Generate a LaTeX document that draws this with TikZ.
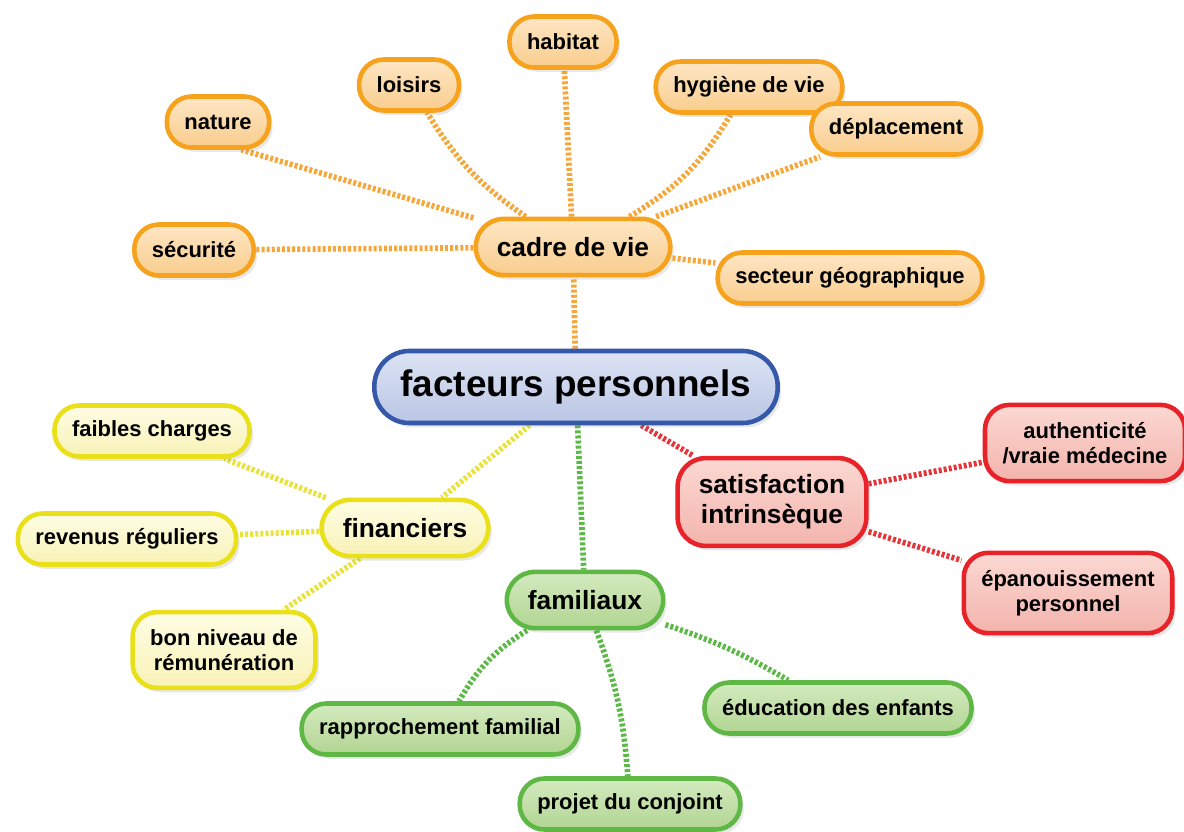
\documentclass[tikz,border=0pt]{standalone}
\usepackage{fontspec}
\setmainfont{Liberation Sans}
\usetikzlibrary{shadows,backgrounds}

\definecolor{vieline}{HTML}{F6A21C}
\definecolor{vietop}{HTML}{FEE6C4}
\definecolor{viebot}{HTML}{F9CD8E}
\definecolor{vielink}{HTML}{F5A73C}
\definecolor{mainline}{HTML}{3558A8}
\definecolor{maintop}{HTML}{DCE3F4}
\definecolor{mainbot}{HTML}{BAC6E4}
\definecolor{satline}{HTML}{E82229}
\definecolor{sattop}{HTML}{FBD8D2}
\definecolor{satbot}{HTML}{F3B4AD}
\definecolor{satlink}{HTML}{E5343A}
\definecolor{finline}{HTML}{EAE01A}
\definecolor{fintop}{HTML}{FEFDE4}
\definecolor{finbot}{HTML}{F8F2B6}
\definecolor{finlink}{HTML}{E8E23A}
\definecolor{famline}{HTML}{5FB846}
\definecolor{famtop}{HTML}{D4EABF}
\definecolor{fambot}{HTML}{B1D592}
\definecolor{famlink}{HTML}{5CB947}

\tikzset{
  box/.style={draw, line width=2.6pt, rounded corners=14pt, align=center,
    font=\bfseries\fontsize{12.5}{14}\selectfont, inner xsep=10pt, inner ysep=5pt,
    minimum height=29pt,
    drop shadow={opacity=0.18, shadow xshift=2pt, shadow yshift=-2.5pt}},
  theme/.style={box, font=\bfseries\fontsize{15}{17}\selectfont, inner xsep=12pt,
    inner ysep=9.5pt, minimum height=32pt, rounded corners=16pt},
  twolines/.style={inner ysep=10pt},
  vie/.style={draw=vieline, top color=vietop, bottom color=viebot},
  sat/.style={draw=satline, top color=sattop, bottom color=satbot},
  fin/.style={draw=finline, top color=fintop, bottom color=finbot},
  fam/.style={draw=famline, top color=famtop, bottom color=fambot},
  link/.style={line width=3.2pt, dash pattern=on 1.7pt off 1.2pt}
}

\begin{document}
\begin{tikzpicture}[x=0.02cm, y=-0.02cm]
  \useasboundingbox (0,0) rectangle (1184,832);

  \node[box, draw=mainline, top color=maintop, bottom color=mainbot, rounded corners=20pt,
    font=\bfseries\fontsize{21}{25}\selectfont, inner xsep=15pt, minimum height=41pt] (facteurs) at (576,387) {facteurs personnels};

  \node[theme, vie] (cadre) at (573,247) {cadre de vie};
  \node[box, vie] (nature) at (218,122) {nature};
  \node[box, vie] (loisirs) at (409,85) {loisirs};
  \node[box, vie] (habitat) at (563,42) {habitat};
  \node[box, vie] (hygiene) at (749,87) {hygiène de vie};
  \node[box, vie] (deplacement) at (896,129) {déplacement};
  \node[box, vie] (securite) at (194,250) {sécurité};
  \node[box, vie] (secteur) at (850,278) {secteur géographique};

  \node[theme, sat] (satisfaction) at (772,502) {satisfaction\\intrinsèque};
  \node[box, sat, twolines] (authenticite) at (1085,443) {authenticité\\/vraie médecine};
  \node[box, sat, twolines] (epanouissement) at (1068,593) {épanouissement\\personnel};

  \node[theme, fin] (financiers) at (405,528) {financiers};
  \node[box, fin] (charges) at (152,431) {faibles charges};
  \node[box, fin] (revenus) at (127,539) {revenus réguliers};
  \node[box, fin, twolines] (remuneration) at (224,650) {bon niveau de\\rémunération};

  \node[theme, fam] (familiaux) at (585,600) {familiaux};
  \node[box, fam] (rapprochement) at (440,729) {rapprochement familial};
  \node[box, fam] (projet) at (630,804) {projet du conjoint};
  \node[box, fam] (education) at (838,708) {éducation des enfants};

  \begin{scope}[on background layer]
    \draw[link, vielink] (facteurs) -- (cadre);
    \draw[link, vielink] (cadre) -- (nature.-50);
    \draw[link, vielink] (cadre) to[bend left=12] (loisirs);
    \draw[link, vielink] (cadre) -- (habitat);
    \draw[link, vielink] (cadre) to[bend right=14] (hygiene);
    \draw[link, vielink] (cadre) -- (deplacement);
    \draw[link, vielink] (cadre) -- (securite);
    \draw[link, vielink] (cadre) -- (secteur);
    \draw[link, satlink] (facteurs) -- (satisfaction);
    \draw[link, satlink] (satisfaction) -- (authenticite);
    \draw[link, satlink] (satisfaction) -- (epanouissement);
    \draw[link, finlink] (facteurs) -- (financiers);
    \draw[link, finlink] (financiers) -- (charges);
    \draw[link, finlink] (financiers) -- (revenus);
    \draw[link, finlink] (financiers) -- (remuneration);
    \draw[link, famlink] (facteurs) -- (familiaux);
    \draw[link, famlink] (familiaux) to[bend right=14] (rapprochement);
    \draw[link, famlink] (familiaux) to[bend left=8] (projet);
    \draw[link, famlink] (familiaux) to[bend left=6] (education);
  \end{scope}
\end{tikzpicture}
\end{document}
